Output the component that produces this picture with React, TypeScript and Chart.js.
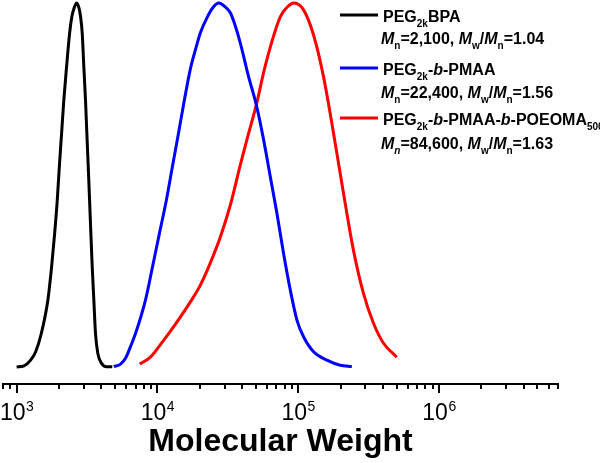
import React, { useEffect, useRef } from "react";
import { Chart, registerables } from "chart.js";

Chart.register(...registerables);

// ---- Data ----
const blackMW = [1000, 1127, 1257, 1365, 1497, 1667, 1771, 1862, 1944, 2010, 2085, 2163, 2263, 2376, 2466, 2559, 2667, 2773, 2846, 2924, 3000, 3084, 3153, 3225, 3296, 3366, 3442, 3534, 3632, 3773, 4011, 4347, 4776];
const blackIntensity = [0.0, 0.003, 0.019, 0.042, 0.092, 0.184, 0.275, 0.367, 0.459, 0.55, 0.641, 0.733, 0.825, 0.916, 0.962, 0.986, 1.0, 0.986, 0.962, 0.916, 0.825, 0.733, 0.641, 0.55, 0.459, 0.367, 0.275, 0.184, 0.092, 0.037, 0.01, 0.001, 0.001];

const blueMW = [4898, 5467, 5931, 6437, 6985, 8222, 9226, 10330, 11580, 12770, 14090, 15530, 17280, 18600, 20190, 22640, 24970, 27210, 30340, 32950, 35740, 38790, 44440, 50390, 56780, 63300, 70600, 78700, 87760, 97900, 109100, 128500, 159800, 198700, 240300];
const blueIntensity = [0.001, 0.008, 0.024, 0.056, 0.092, 0.184, 0.275, 0.367, 0.459, 0.55, 0.641, 0.733, 0.825, 0.871, 0.918, 0.962, 0.989, 1.0, 0.989, 0.973, 0.937, 0.89, 0.797, 0.72, 0.624, 0.523, 0.422, 0.312, 0.212, 0.129, 0.083, 0.042, 0.019, 0.005, 0.001];

const redMW = [7480, 8913, 11090, 13430, 17140, 20180, 23760, 27980, 32950, 38790, 43490, 50390, 57370, 65470, 74530, 83560, 93720, 109100, 128500, 151300, 178000, 209500, 246600, 290300, 341800, 402400, 501000];
const redIntensity = [0.008, 0.027, 0.074, 0.118, 0.179, 0.225, 0.286, 0.357, 0.445, 0.555, 0.629, 0.72, 0.816, 0.898, 0.962, 0.989, 1.0, 0.981, 0.912, 0.797, 0.643, 0.478, 0.321, 0.203, 0.121, 0.066, 0.027];

const seriesColors = ["#000000", "#0000ff", "#ff0000"];

const xMin = 800;
const xMax = 7e6;
const majorTickValues = [1e3, 1e4, 1e5, 1e6];
const majorTickBase = "10";
const majorTickExponents = ["3", "4", "5", "6"];
const minorMultipliers = [2, 3, 4, 5, 6, 7, 8, 9];
const axisTitle = "Molecular Weight";

type Seg = { t: string; it?: boolean; sub?: boolean };
const legend1Name: Seg[] = [{ t: "PEG" }, { t: "2k", sub: true }, { t: "BPA" }];
const legend1Info: Seg[] = [{ t: "M", it: true }, { t: "n", sub: true }, { t: "=2,100, " }, { t: "M", it: true }, { t: "w", sub: true }, { t: "/" }, { t: "M", it: true }, { t: "n", sub: true }, { t: "=1.04" }];
const legend2Name: Seg[] = [{ t: "PEG" }, { t: "2k", sub: true }, { t: "-" }, { t: "b", it: true }, { t: "-PMAA" }];
const legend2Info: Seg[] = [{ t: "M", it: true }, { t: "n", sub: true }, { t: "=22,400, " }, { t: "M", it: true }, { t: "w", sub: true }, { t: "/" }, { t: "M", it: true }, { t: "n", sub: true }, { t: "=1.56" }];
const legend3Name: Seg[] = [{ t: "PEG" }, { t: "2k", sub: true }, { t: "-" }, { t: "b", it: true }, { t: "-PMAA-" }, { t: "b", it: true }, { t: "-POEOMA" }, { t: "500", sub: true }];
const legend3Info: Seg[] = [{ t: "M", it: true }, { t: "n", sub: true, it: true }, { t: "=84,600, " }, { t: "M", it: true }, { t: "w", sub: true }, { t: "/" }, { t: "M", it: true }, { t: "n", sub: true }, { t: "=1.63" }];

const FONT = '"Liberation Sans", Arial, sans-serif';

const toPoints = (xs: number[], ys: number[]) => xs.map((x, i) => ({ x, y: ys[i] }));

function drawSegs(ctx: CanvasRenderingContext2D, segs: Seg[], x: number, y: number) {
  let cx = x;
  for (const s of segs) {
    const size = s.sub ? 10 : 16;
    ctx.font = `${s.it ? "italic " : ""}bold ${size}px ${FONT}`;
    ctx.fillText(s.t, cx, y + (s.sub ? 5 : 0));
    cx += ctx.measureText(s.t).width;
  }
}

const overlayPlugin = {
  id: "overlay",
  afterDraw(chart: any) {
    const ctx: CanvasRenderingContext2D = chart.ctx;
    const xs = chart.scales.x;
    const y0 = chart.chartArea.bottom;
    ctx.save();
    // tick marks
    ctx.strokeStyle = "#000";
    ctx.lineWidth = 2;
    for (const base of [100, ...majorTickValues]) {
      const all = [base, ...minorMultipliers.map((m) => m * base)];
      all.forEach((v, i) => {
        if (v < xMin - 1e-6 || v > xMax + 1e-6) return;
        const px = Math.round(xs.getPixelForValue(v));
        const len = i === 0 ? 9 : 5;
        ctx.beginPath();
        ctx.moveTo(px, y0);
        ctx.lineTo(px, y0 + len);
        ctx.stroke();
      });
    }
    // tick labels 10^n
    ctx.fillStyle = "#000";
    ctx.textBaseline = "alphabetic";
    ctx.textAlign = "left";
    majorTickValues.forEach((v, i) => {
      const px = xs.getPixelForValue(v);
      ctx.font = `23px ${FONT}`;
      const w1 = ctx.measureText(majorTickBase).width;
      ctx.font = `14px ${FONT}`;
      const w2 = ctx.measureText(majorTickExponents[i]).width;
      const start = px - (w1 + w2) / 2;
      ctx.font = `23px ${FONT}`;
      ctx.fillText(majorTickBase, start, 420);
      ctx.font = `14px ${FONT}`;
      ctx.fillText(majorTickExponents[i], start + w1 + 0.5, 411);
    });
    // legend
    const rows = [
      { color: seriesColors[0], name: legend1Name, info: legend1Info, yName: 22, yInfo: 44 },
      { color: seriesColors[1], name: legend2Name, info: legend2Info, yName: 75, yInfo: 98 },
      { color: seriesColors[2], name: legend3Name, info: legend3Info, yName: 125, yInfo: 149 },
    ];
    rows.forEach((r) => {
      ctx.strokeStyle = r.color;
      ctx.lineWidth = 3;
      ctx.beginPath();
      ctx.moveTo(340, r.yName - 7);
      ctx.lineTo(378, r.yName - 7);
      ctx.stroke();
      ctx.fillStyle = "#000";
      drawSegs(ctx, r.name, 383, r.yName);
      drawSegs(ctx, r.info, 381, r.yInfo);
    });
    ctx.restore();
  },
};

export default function App() {
  const ref = useRef<HTMLCanvasElement>(null);
  useEffect(() => {
    if (!ref.current) return;
    const mk = (xs: number[], ys: number[], color: string) => ({
      data: toPoints(xs, ys),
      borderColor: color,
      backgroundColor: color,
      borderWidth: 3,
      pointRadius: 0,
      fill: false,
      cubicInterpolationMode: "monotone" as const,
    });
    const chart = new Chart(ref.current, {
      type: "line",
      data: {
        datasets: [
          mk(blackMW, blackIntensity, seriesColors[0]),
          mk(blueMW, blueIntensity, seriesColors[1]),
          mk(redMW, redIntensity, seriesColors[2]),
        ],
      },
      options: {
        responsive: false,
        animation: false,
        layout: { padding: { left: 3, right: 42, top: 0, bottom: 0 } },
        plugins: { legend: { display: false }, tooltip: { enabled: false } },
        scales: {
          x: {
            type: "logarithmic",
            min: xMin,
            max: xMax,
            grid: { display: false, drawTicks: false, tickLength: 0 },
            border: { display: true, color: "#000", width: 2 },
            ticks: { display: false },
            title: {
              display: true,
              text: axisTitle,
              color: "#000",
              font: { family: FONT, size: 32, weight: "bold", lineHeight: 1.2 },
              padding: { top: 38.6, bottom: 2 },
            },
          },
          y: { type: "linear", display: false, min: -0.0467, max: 1.0082 },
        },
      },
      plugins: [overlayPlugin],
    });
    return () => chart.destroy();
  }, []);
  return (
    <div style={{ position: "fixed", left: 0, top: 0, width: 600, height: 463, background: "#fff" }}>
      <canvas ref={ref} width={600} height={463} />
    </div>
  );
}
